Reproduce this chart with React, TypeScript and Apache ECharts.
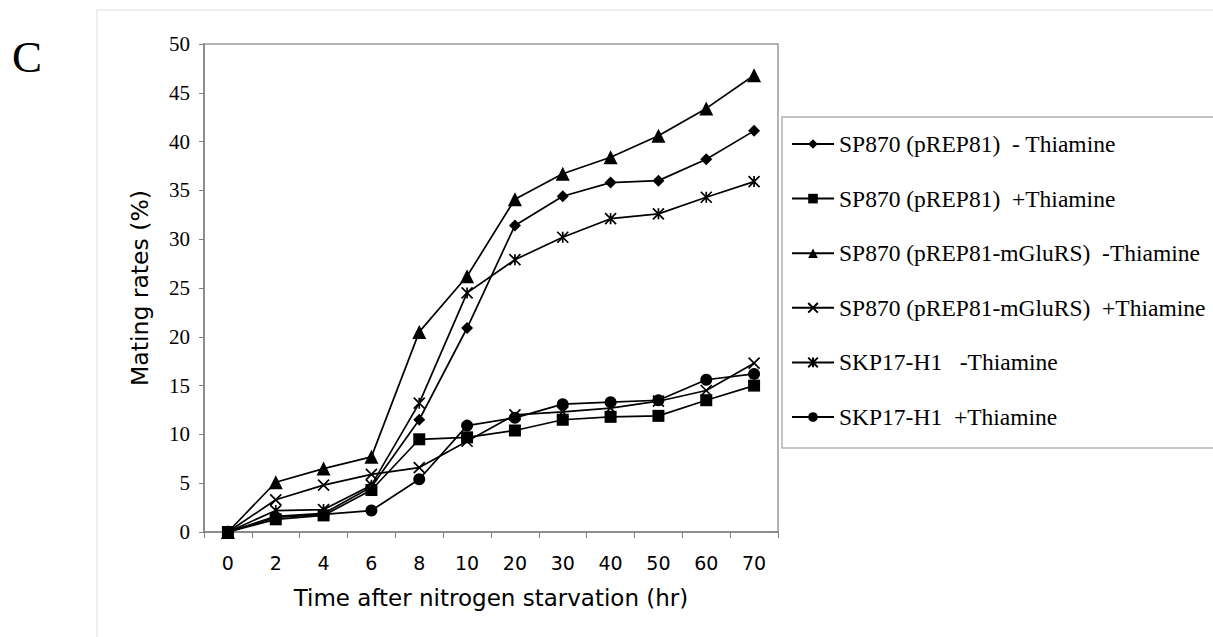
import React, { useEffect, useRef } from "react";
import * as echarts from "echarts";

const categories = ["0", "2", "4", "6", "8", "10", "20", "30", "40", "50", "60", "70"];
const seriesNames = [
  "SP870 (pREP81)  - Thiamine",
  "SP870 (pREP81)  +Thiamine",
  "SP870 (pREP81-mGluRS)  -Thiamine",
  "SP870 (pREP81-mGluRS)  +Thiamine",
  "SKP17-H1   -Thiamine",
  "SKP17-H1  +Thiamine",
];
const pREP81Minus = [0, 1.6, 1.9, 4.6, 11.5, 20.9, 31.4, 34.4, 35.8, 36.0, 38.2, 41.1];
const pREP81Plus = [0, 1.3, 1.7, 4.3, 9.5, 9.7, 10.4, 11.5, 11.8, 11.9, 13.5, 15.0];
const mGluRSMinus = [0, 5.1, 6.5, 7.7, 20.5, 26.2, 34.1, 36.7, 38.4, 40.6, 43.4, 46.8];
const mGluRSPlus = [0, 3.3, 4.8, 5.9, 6.6, 9.3, 12.0, 12.3, 12.7, 13.4, 14.5, 17.3];
const skpMinus = [0, 2.2, 2.3, 4.8, 13.2, 24.5, 27.9, 30.2, 32.1, 32.6, 34.3, 35.9];
const skpPlus = [0, 1.5, 1.8, 2.2, 5.4, 10.9, 11.7, 13.1, 13.3, 13.5, 15.6, 16.2];
const yTicks = { min: 0, max: 50, interval: 5 };

const X_PATH = "path://M0,0L10,10M10,0L0,10";
const STAR_PATH = "path://M0,0L10,10M10,0L0,10M5,0L5,10";

export default function App() {
  const ref = useRef<HTMLDivElement>(null);
  useEffect(() => {
    if (!ref.current) return;
    const chart = echarts.init(ref.current, null, { renderer: "svg" });
    const serif = "'Liberation Serif', 'Times New Roman', serif";
    const sans = "'DejaVu Sans', Verdana, sans-serif";
    const mk = (name: string, data: number[], symbol: string, size: number, stroke = false) => ({
      name,
      type: "line",
      data,
      symbol,
      symbolSize: size,
      showSymbol: true,
      lineStyle: { color: "#000", width: 1.7 },
      itemStyle: stroke
        ? { color: "#000", borderColor: "#000", borderWidth: 1.7 }
        : { color: "#000", borderWidth: 0 },
      emphasis: { disabled: true },
    });
    chart.setOption({
      animation: false,
      backgroundColor: "#fff",
      grid: {
        left: 204,
        right: 435,
        top: 44,
        bottom: 105,
        show: true,
        borderColor: "#9a9a9a",
        borderWidth: 1.5,
        containLabel: false,
      },
      graphic: [
        {
          type: "rect",
          shape: { x: 97, y: 10, width: 1200, height: 700 },
          style: { fill: "none", stroke: "#dddddd", lineWidth: 1 },
          silent: true,
        },
        {
          type: "rect",
          shape: { x: 782, y: 117, width: 450, height: 331 },
          style: { fill: "#fff", stroke: "#b0b0b0", lineWidth: 1.5 },
          silent: true,
          z: -1,
        },
        {
          type: "text",
          left: 12,
          top: 34,
          style: { text: "C", font: "45px " + serif, fill: "#000" },
        },
      ],
      legend: {
        orient: "vertical",
        left: 791,
        top: 132,
        padding: 0,
        itemWidth: 42,
        itemHeight: 12,
        itemGap: 30.6,
        textStyle: { fontFamily: serif, fontSize: 23.5, color: "#000" },
        data: seriesNames,
      },
      xAxis: {
        type: "category",
        data: categories,
        boundaryGap: true,
        name: "Time after nitrogen starvation (hr)",
        nameLocation: "middle",
        nameGap: 54,
        nameTextStyle: { fontFamily: sans, fontSize: 23, color: "#000" },
        axisLine: { lineStyle: { color: "#808080", width: 1.5 } },
        axisTick: { show: true, length: 6, lineStyle: { color: "#808080" } },
        axisLabel: { fontFamily: sans, fontSize: 19, color: "#000", margin: 21 },
      },
      yAxis: {
        type: "value",
        min: yTicks.min,
        max: yTicks.max,
        interval: yTicks.interval,
        name: "Mating rates (%)",
        nameLocation: "middle",
        nameGap: 52,
        nameTextStyle: { fontFamily: sans, fontSize: 23.5, color: "#000" },
        axisLine: { show: true, lineStyle: { color: "#808080", width: 1.5 } },
        axisTick: { show: true, length: 5, lineStyle: { color: "#808080" } },
        axisLabel: { fontFamily: serif, fontSize: 21, color: "#000", margin: 14 },
        splitLine: { show: false },
      },
      series: [
        mk(seriesNames[0], pREP81Minus, "diamond", 12),
        mk(seriesNames[1], pREP81Plus, "rect", 12),
        mk(seriesNames[2], mGluRSMinus, "triangle", 14),
        mk(seriesNames[3], mGluRSPlus, X_PATH, 11, true),
        mk(seriesNames[4], skpMinus, STAR_PATH, 11, true),
        mk(seriesNames[5], skpPlus, "circle", 12),
      ],
    });
    return () => chart.dispose();
  }, []);
  return (
    <div
      ref={ref}
      style={{ position: "fixed", left: 0, top: 0, width: 1213, height: 637, background: "#fff" }}
    />
  );
}
